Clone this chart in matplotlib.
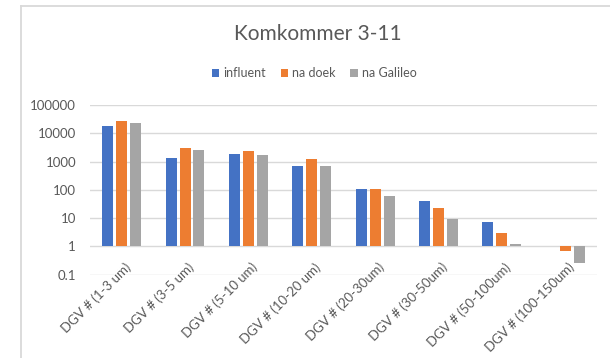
import matplotlib.pyplot as plt
import numpy as np
from matplotlib.patches import Patch
from matplotlib.lines import Line2D
from matplotlib.transforms import blended_transform_factory, ScaledTranslation

plt.rcParams['font.family'] = ['Lato', 'DejaVu Sans']

categories = ['DGV # (1-3 um)', 'DGV # (3-5 um)', 'DGV # (5-10 um)',
              'DGV # (10-20 um)', 'DGV # (20-30um)', 'DGV # (30-50um)',
              'DGV # (50-100um)', 'DGV # (100-150um)']
influent = [18000, 1380, 1800, 670, 106, 39, 7.4, np.nan]
na_doek = [28000, 2950, 2450, 1210, 111, 23.6, 3.0, 0.70]
na_galileo = [23000, 2600, 1750, 720, 58, 9.2, 1.24, 0.265]

series = [('influent', influent, '#4472C4'),
          ('na doek', na_doek, '#ED7D31'),
          ('na Galileo', na_galileo, '#A5A5A5')]

text_color = '#595959'
grid_color = '#D9D9D9'

fig = plt.figure(figsize=(6.10, 3.58), dpi=100)
ax = fig.add_axes([0.1475, 0.233, 0.831, 0.4737])

x = np.arange(len(categories))
width = 0.173
step = 0.22
for i, (name, vals, color) in enumerate(series):
    vals = np.array(vals, dtype=float)
    # bars start at the value-axis crossing (1) and run up or down from it
    ax.bar(x + (i - 1) * step, vals - 1, bottom=1, width=width,
           color=color, linewidth=0, zorder=3)

ax.set_yscale('log')
ax.set_ylim(0.1, 100000)
ax.set_xlim(-0.5, len(categories) - 0.5)
yticks = [0.1, 1, 10, 100, 1000, 10000, 100000]
ax.set_yticks(yticks)
ax.set_yticklabels(['0.1', '1', '10', '100', '1000', '10000', '100000'])
ax.yaxis.set_minor_locator(plt.NullLocator())
ax.tick_params(axis='y', length=0, pad=10, labelsize=9.5, labelcolor=text_color)
ax.set_xticks([])
for y in yticks:
    ax.axhline(y, color=grid_color, lw=1.0, zorder=1)
for s in ax.spines.values():
    s.set_visible(False)

# rotated category labels, right end just under each group
trans = blended_transform_factory(ax.transData, ax.transAxes)
for i, lab in enumerate(categories):
    off = ScaledTranslation(0.07, 0, fig.dpi_scale_trans)
    ax.text(i, 0.055, lab, transform=trans + off, rotation=45,
            rotation_mode='anchor', ha='right', va='center',
            fontsize=9.5, color=text_color)

fig.text(0.521, 0.906, 'Komkommer 3-11', ha='center', va='center',
         fontsize=15, color=text_color)

handles = [Patch(facecolor=c, edgecolor='none', label=n) for n, _, c in series]
fig.legend(handles=handles, loc='center', bbox_to_anchor=(0.515, 0.796),
           ncol=3, frameon=False, fontsize=9, handlelength=0.6,
           handleheight=0.6, handletextpad=0.3, columnspacing=1.2,
           labelcolor=text_color)

# chart area frame (top and left edges)
fig.add_artist(Line2D([21 / 610, 1.0], [1 - 5.7 / 358] * 2,
                      transform=fig.transFigure, color=grid_color, lw=1.3))
fig.add_artist(Line2D([21 / 610] * 2, [0.0, 1 - 5.7 / 358],
                      transform=fig.transFigure, color=grid_color, lw=1.3))

fig.savefig('out.png', dpi=100)
